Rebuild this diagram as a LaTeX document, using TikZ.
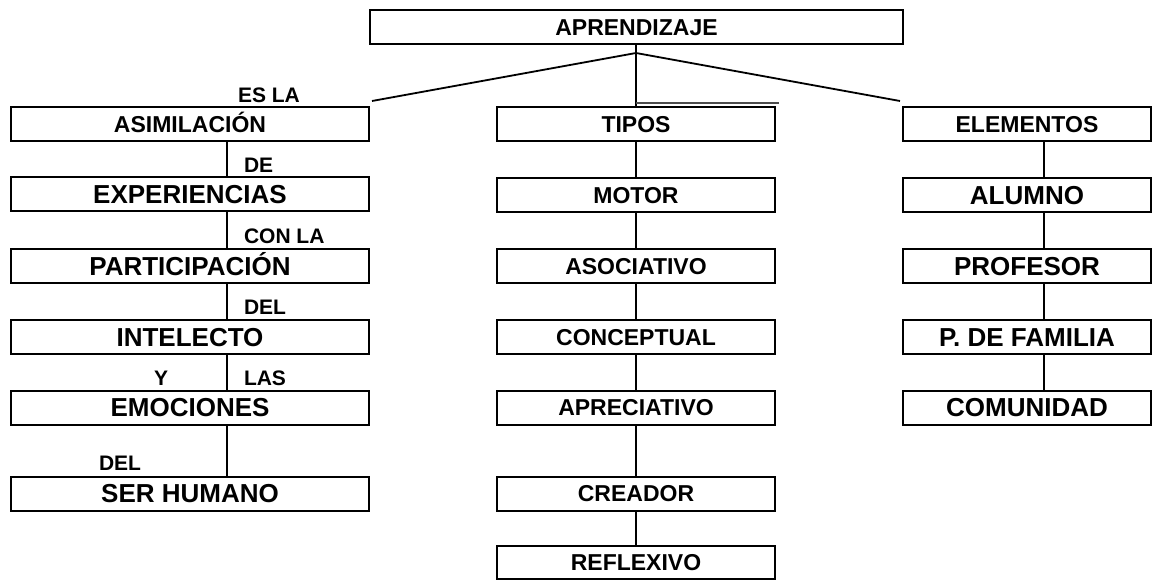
\documentclass[tikz,border=0pt]{standalone}
\usepackage{fontspec}
\setmainfont{Liberation Sans}
\usepackage{tikz}
\usetikzlibrary{positioning}

\begin{document}
\begin{tikzpicture}[
        x=1pt, y=-1pt, line width=2pt,
        box/.style={draw, rectangle, inner sep=0pt, minimum height=34pt, text height=16.5pt, text depth=0pt, font=\bfseries\fontsize{23}{26}\selectfont},
        bigbox/.style={box, text height=18.6pt, font=\bfseries\fontsize{26}{30}\selectfont},
        leftbox/.style={minimum width=358pt},
        midbox/.style={minimum width=278pt},
        rightbox/.style={minimum width=248pt},
        conn/.style={draw, line width=1.8pt},
        lbl/.style={inner sep=0pt, anchor=west, font=\bfseries\fontsize{21}{24}\selectfont}
    ]
    \useasboundingbox (0,0) rectangle (1160,580);
    % top
    \node[box, minimum width=533pt] (apr) at (636.5,27.5) {APRENDIZAJE};
    \coordinate (hub) at (636,53);
    \coordinate (lend) at (372,101);
    \coordinate (rend) at (900,101);
    \coordinate (gl) at (636,103);
    \coordinate (gr) at (779,103);
    \coordinate (lx) at (227,0);
    \coordinate (rx) at (1044,0);
    % left column
    \node[box, leftbox] (asim) at (190,124) {ASIMILACIÓN};
    \node[bigbox, leftbox] (exp) at (190,194.5) {EXPERIENCIAS};
    \node[bigbox, leftbox] (part) at (190,266) {PARTICIPACIÓN};
    \node[bigbox, leftbox] (int) at (190,337) {INTELECTO};
    \node[bigbox, leftbox] (emo) at (190,407.5) {EMOCIONES};
    \node[bigbox, leftbox] (ser) at (190,493.5) {SER HUMANO};
    % middle column
    \node[box, midbox] (tip) at (636,124) {TIPOS};
    \node[box, midbox] (mot) at (636,195) {MOTOR};
    \node[box, midbox] (aso) at (636,266) {ASOCIATIVO};
    \node[box, midbox] (con) at (636,337) {CONCEPTUAL};
    \node[box, midbox] (apre) at (636,407.5) {APRECIATIVO};
    \node[box, midbox] (cre) at (636,493.5) {CREADOR};
    \node[box, midbox, minimum height=33pt] (ref) at (636,562.5) {REFLEXIVO};
    % right column
    \node[box, rightbox] (ele) at (1027,124) {ELEMENTOS};
    \node[bigbox, rightbox] (alu) at (1027,195) {ALUMNO};
    \node[bigbox, rightbox] (pro) at (1027,266) {PROFESOR};
    \node[bigbox, rightbox] (fam) at (1027,337) {P. DE FAMILIA};
    \node[bigbox, rightbox] (com) at (1027,407.5) {COMUNIDAD};
    % link words
    \node[lbl] (l1) at (237,95) {ES LA};
    \node[lbl] (l2) at (243,165) {DE};
    \node[lbl] (l3) at (243,236) {CON LA};
    \node[lbl] (l4) at (243,307) {DEL};
    \node[lbl] (l5) at (153,378) {Y};
    \node[lbl] (l6) at (243,378) {LAS};
    \node[lbl] (l7) at (98,463) {DEL};
    % connectors
    \draw[conn] (apr.south -| hub) -- (hub);
    \draw[conn] (hub) -- (lend);
    \draw[conn] (hub) -- (rend);
    \draw[conn] (hub) -- (tip.north);
    \draw[conn, gray!60!black, line width=1.5pt] (gl) -- (gr);
    \draw[conn] (asim.south -| lx) -- (exp.north -| lx);
    \draw[conn] (exp.south -| lx) -- (part.north -| lx);
    \draw[conn] (part.south -| lx) -- (int.north -| lx);
    \draw[conn] (int.south -| lx) -- (emo.north -| lx);
    \draw[conn] (emo.south -| lx) -- (ser.north -| lx);
    \draw[conn] (tip) -- (mot);
    \draw[conn] (mot) -- (aso);
    \draw[conn] (aso) -- (con);
    \draw[conn] (con) -- (apre);
    \draw[conn] (apre) -- (cre);
    \draw[conn] (cre) -- (ref);
    \draw[conn] (ele.south -| rx) -- (alu.north -| rx);
    \draw[conn] (alu.south -| rx) -- (pro.north -| rx);
    \draw[conn] (pro.south -| rx) -- (fam.north -| rx);
    \draw[conn] (fam.south -| rx) -- (com.north -| rx);
\end{tikzpicture}
\end{document}
